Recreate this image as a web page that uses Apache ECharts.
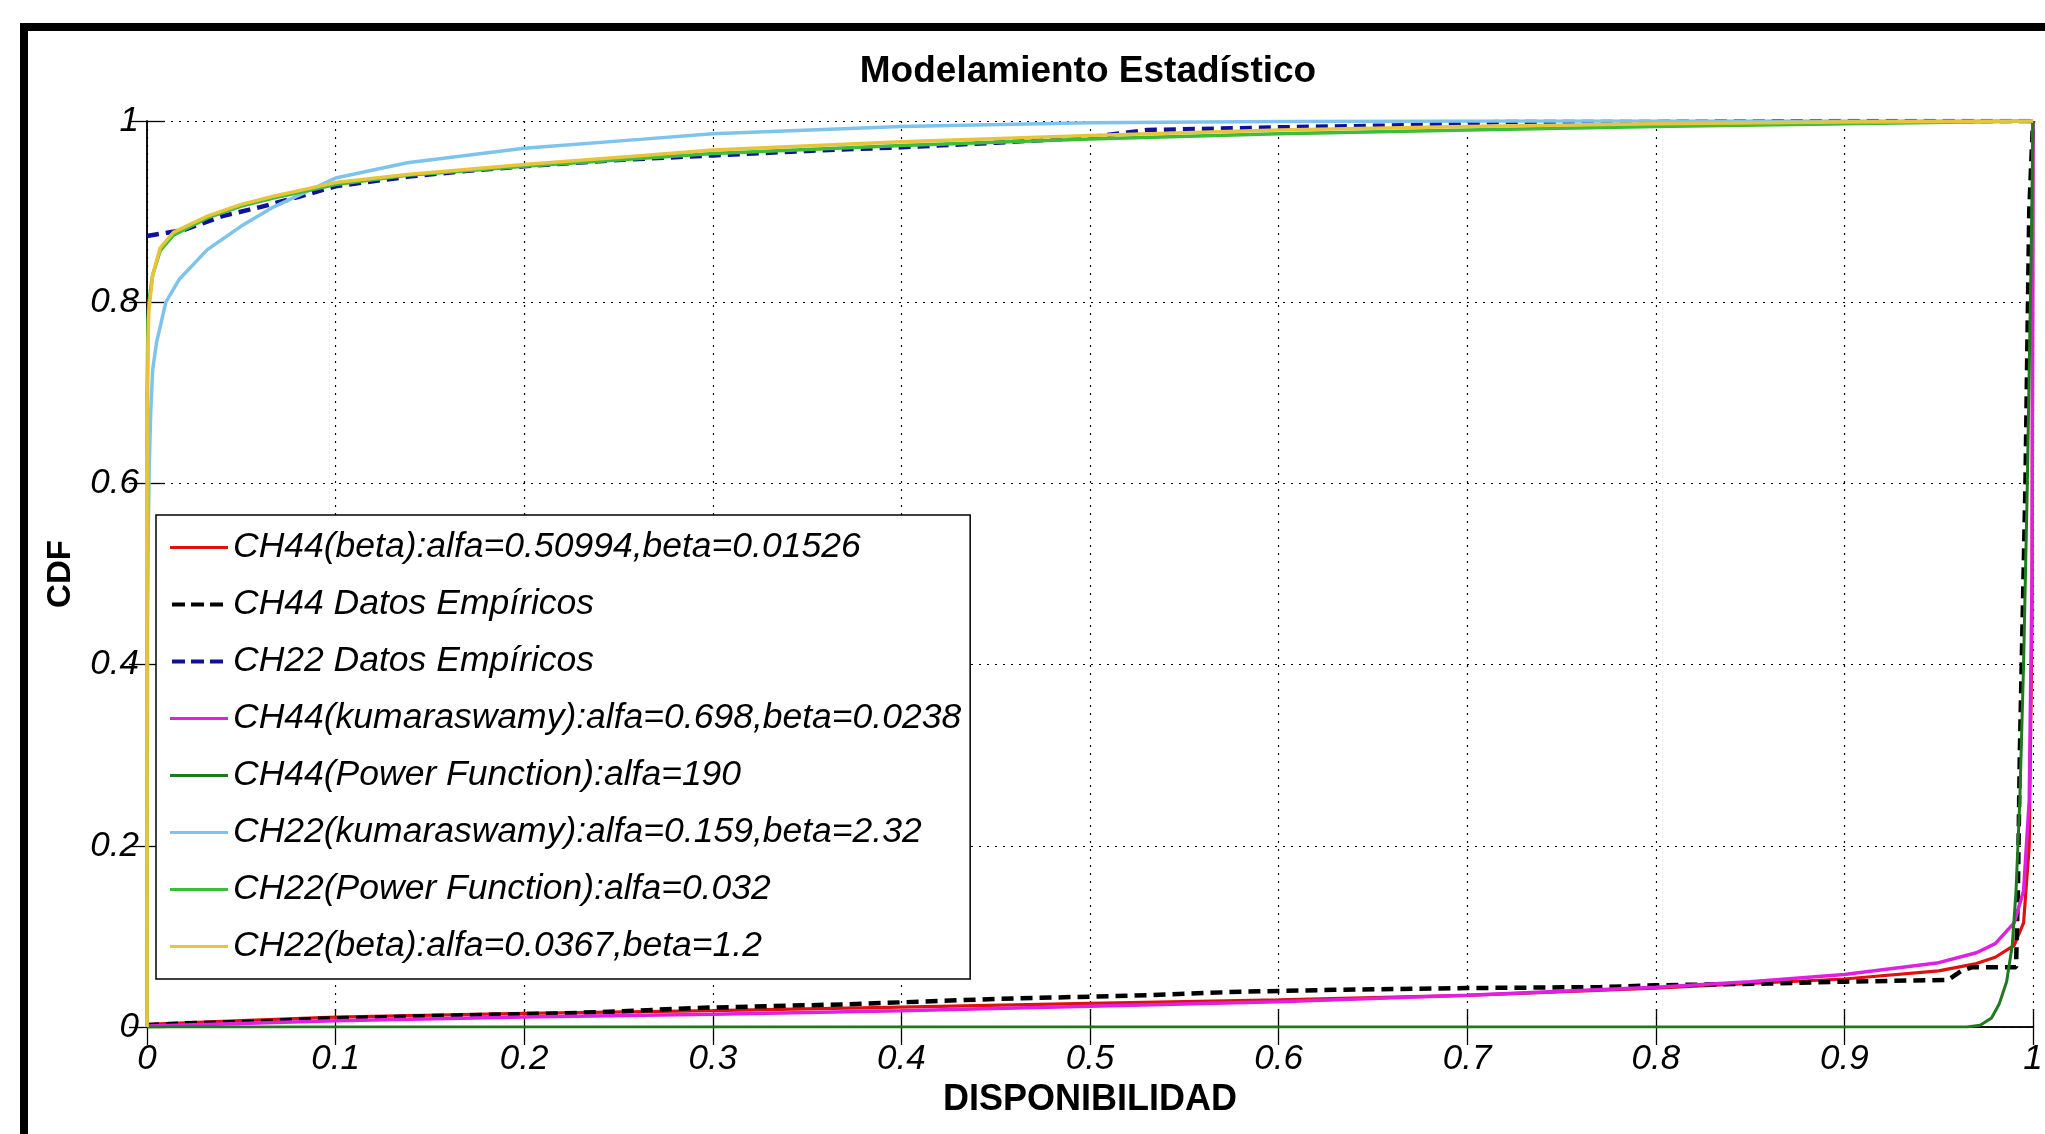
<!DOCTYPE html>
<html>
<head>
<meta charset="utf-8">
<script src="https://cdn.jsdelivr.net/npm/echarts@6/dist/echarts.min.js"></script>
<style>
html,body{margin:0;padding:0;background:#fff;}
#chart{width:2045px;height:1134px;}
</style>
</head>
<body>
<div id="chart"></div>
<script>
// ---- data ----
const chartTitle = 'Modelamiento Estadístico';
const xName = 'DISPONIBILIDAD';
const yName = 'CDF';
const xTicks = [0, 0.1, 0.2, 0.3, 0.4, 0.5, 0.6, 0.7, 0.8, 0.9, 1];
const yTicks = [0, 0.2, 0.4, 0.6, 0.8, 1];

const seriesNames = [
  'CH44(beta):alfa=0.50994,beta=0.01526',
  'CH44 Datos Empíricos',
  'CH22 Datos Empíricos',
  'CH44(kumaraswamy):alfa=0.698,beta=0.0238',
  'CH44(Power Function):alfa=190',
  'CH22(kumaraswamy):alfa=0.159,beta=2.32',
  'CH22(Power Function):alfa=0.032',
  'CH22(beta):alfa=0.0367,beta=1.2'
];

const ch44Beta = [[0,0.003],[0.05,0.007],[0.1,0.011],[0.2,0.015],[0.3,0.018],[0.4,0.022],[0.5,0.026],[0.6,0.030],[0.7,0.035],[0.8,0.043],[0.85,0.048],[0.9,0.053],[0.95,0.062],[0.97,0.070],[0.98,0.077],[0.99,0.090],[0.995,0.115],[0.998,0.20],[0.9995,0.45],[1,1]];

const ch44Emp = [[0,0.002],[0.02,0.004],[0.06,0.006],[0.09,0.009],[0.13,0.011],[0.17,0.013],[0.22,0.015],[0.26,0.018],[0.29,0.021],[0.33,0.023],[0.37,0.025],[0.41,0.028],[0.45,0.031],[0.49,0.033],[0.53,0.035],[0.58,0.039],[0.63,0.041],[0.70,0.043],[0.77,0.044],[0.80,0.046],[0.86,0.048],[0.90,0.050],[0.955,0.052],[0.962,0.062],[0.968,0.066],[0.991,0.066],[0.992,0.15],[0.993,0.30],[0.994,0.40],[0.995,0.50],[0.996,0.60],[0.997,0.75],[0.998,0.90],[1,1]];

const ch22Emp = [[0,0.873],[0.02,0.880],[0.04,0.895],[0.06,0.905],[0.08,0.916],[0.1,0.928],[0.14,0.939],[0.17,0.945],[0.2,0.950],[0.25,0.957],[0.3,0.962],[0.35,0.967],[0.4,0.971],[0.45,0.976],[0.5,0.982],[0.53,0.990],[0.6,0.993],[0.66,0.995],[0.72,0.999],[0.8,0.999],[0.9,1],[1,1]];

const ch44Kuma = [[0,0.001],[0.05,0.004],[0.1,0.007],[0.2,0.011],[0.3,0.014],[0.4,0.018],[0.5,0.023],[0.6,0.028],[0.7,0.035],[0.8,0.044],[0.85,0.050],[0.9,0.058],[0.95,0.071],[0.97,0.082],[0.98,0.092],[0.99,0.115],[0.995,0.15],[0.998,0.25],[0.9995,0.5],[1,1]];

const ch44Power = [[0,0],[0.965,0],[0.972,0.002],[0.978,0.010],[0.982,0.025],[0.986,0.05],[0.989,0.09],[0.991,0.15],[0.993,0.25],[0.995,0.40],[0.997,0.60],[0.999,0.85],[1,1]];

const ch22Kuma = [[0,0],[0.0003,0.45],[0.0007,0.55],[0.0012,0.62],[0.002,0.68],[0.003,0.725],[0.005,0.755],[0.007,0.773],[0.01,0.800],[0.017,0.825],[0.032,0.858],[0.05,0.884],[0.067,0.905],[0.1,0.937],[0.138,0.954],[0.2,0.970],[0.263,0.980],[0.3,0.986],[0.4,0.994],[0.5,0.998],[0.6,0.9995],[0.7,1],[1,1]];

const ch22Power = [[0,0],[0.0001,0.70],[0.0005,0.78],[0.001,0.80],[0.003,0.83],[0.007,0.857],[0.014,0.874],[0.032,0.893],[0.05,0.906],[0.067,0.915],[0.1,0.930],[0.138,0.940],[0.2,0.950],[0.263,0.959],[0.3,0.964],[0.4,0.973],[0.5,0.980],[0.6,0.986],[0.7,0.990],[0.8,0.994],[0.9,0.997],[1,1]];

const ch22Beta = [[0,0],[0.0001,0.60],[0.0005,0.75],[0.001,0.79],[0.003,0.83],[0.007,0.860],[0.014,0.877],[0.032,0.895],[0.05,0.908],[0.067,0.917],[0.1,0.932],[0.138,0.941],[0.2,0.952],[0.263,0.962],[0.3,0.968],[0.4,0.977],[0.5,0.984],[0.6,0.990],[0.7,0.994],[0.8,0.997],[0.9,0.999],[1,1]];

const seriesData = [ch44Beta, ch44Emp, ch22Emp, ch44Kuma, ch44Power, ch22Kuma, ch22Power, ch22Beta];
const seriesColors = ['#e01010', '#000000', '#10109a', '#e020e0', '#1f7a1f', '#7ec3ec', '#3cbd3c', '#e8c43c'];
const seriesDashed = [false, true, true, false, false, false, false, false];
const seriesWidth = [3.2, 4.5, 4.5, 3.5, 3, 3.5, 3.5, 3.5];

// ---- chart ----
const FONT = '"Liberation Sans", Arial, sans-serif';
const chart = echarts.init(document.getElementById('chart'), null, {renderer: 'canvas'});

function labelFmt(v) { return String(Math.round(v * 10) / 10); }

// legend icons (line sample / dashed line sample) drawn in a 58x14 box
const CORNERS = ' M0,0H0.01V0.01H0Z M57.99,13.99H58V14H57.99Z';
const ICON_SOLID = 'path://M0,5.4H58V8.6H0Z' + CORNERS;
const ICON_DASH = 'path://M2,5H15V9H2Z M21,5H34V9H21Z M40,5H53V9H40Z' + CORNERS;

const tickStyle = {show: true, inside: true, length: 18, lineStyle: {color: '#000', width: 1.3}};
const axisLineStyle = {show: true, lineStyle: {color: '#000', width: 1.5}};
const gridLineStyle = {show: true, lineStyle: {color: '#000', width: 1.2, type: [2, 6]}};

const option = {
  animation: false,
  backgroundColor: '#ffffff',
  grid: {left: 147, right: 12, top: 121, bottom: 107, show: false, containLabel: false, outerBoundsMode: 'none'},
  graphic: [
    {type: 'rect', z: 100, silent: true,
     shape: {x: 24, y: 27, width: 2200, height: 1300},
     style: {fill: 'none', stroke: '#000', lineWidth: 8}},
    {type: 'text', z: 100, x: 1088, y: 72, silent: true,
     style: {text: chartTitle, fill: '#000', fontSize: 37, fontWeight: 'bold', fontFamily: FONT,
             align: 'center', verticalAlign: 'middle'}}
  ],
  legend: {
    data: seriesNames.map((n, i) => ({name: n, icon: seriesDashed[i] ? ICON_DASH : ICON_SOLID,
                                      itemStyle: {color: seriesColors[i], borderWidth: 0}})),
    orient: 'vertical',
    left: 156, top: 515,
    backgroundColor: '#fff',
    borderColor: '#000', borderWidth: 1.5,
    padding: [4, 9, 4, 14],
    itemWidth: 58, itemHeight: 14, itemGap: 0,
    selectedMode: false,
    textStyle: {fontSize: 35.5, lineHeight: 57, fontStyle: 'italic', fontFamily: FONT, color: '#000'}
  },
  xAxis: [
    {type: 'value', min: 0, max: 1, interval: 0.1, position: 'bottom',
     axisLine: axisLineStyle, axisTick: tickStyle, splitLine: gridLineStyle,
     axisLabel: {fontSize: 35, fontStyle: 'italic', fontFamily: FONT, color: '#000', margin: 15, formatter: labelFmt},
     name: xName, nameLocation: 'middle', nameGap: 54,
     nameTextStyle: {fontSize: 36, fontWeight: 'bold', fontFamily: FONT, color: '#000'}},
    {type: 'value', min: 0, max: 1, interval: 0.1, position: 'top',
     axisLine: axisLineStyle, axisTick: tickStyle, splitLine: {show: false}, axisLabel: {show: false}}
  ],
  yAxis: [
    {type: 'value', min: 0, max: 1, interval: 0.2, position: 'left',
     axisLine: axisLineStyle, axisTick: tickStyle, splitLine: gridLineStyle,
     axisLabel: {fontSize: 35, fontStyle: 'italic', fontFamily: FONT, color: '#000', margin: 8, formatter: labelFmt},
     name: yName, nameLocation: 'middle', nameGap: 70, nameRotate: 90,
     nameTextStyle: {fontSize: 33, fontWeight: 'bold', fontFamily: FONT, color: '#000'}},
    {type: 'value', min: 0, max: 1, interval: 0.2, position: 'right',
     axisLine: axisLineStyle, axisTick: tickStyle, splitLine: {show: false}, axisLabel: {show: false}}
  ],
  series: seriesNames.map((name, i) => ({
    name: name,
    type: 'line',
    xAxisIndex: 0, yAxisIndex: 0,
    data: seriesData[i],
    symbol: 'none', showSymbol: false,
    color: seriesColors[i],
    lineStyle: {color: seriesColors[i], width: seriesWidth[i], type: seriesDashed[i] ? [12, 7] : 'solid'},
    z: 2 + i
  }))
};
chart.setOption(option);
</script>
</body>
</html>
